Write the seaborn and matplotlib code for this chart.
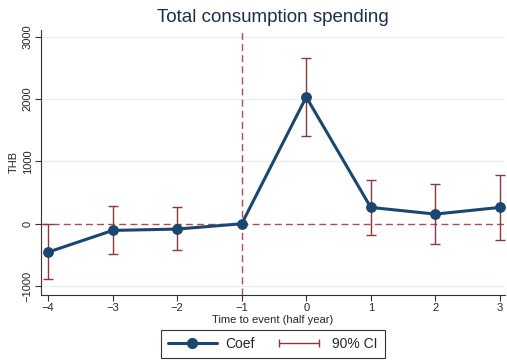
import numpy as np
import pandas as pd
import seaborn as sns
import matplotlib.pyplot as plt
from matplotlib.lines import Line2D
from matplotlib.legend_handler import HandlerLine2D

# event-study estimates
period = [-4, -3, -2, -1, 0, 1, 2, 3]
coef = [-455, -107, -85, 0, 2033, 262, 155, 262]
ci_low = [-888, -477, -428, 0, 1401, -177, -332, -262]
ci_high = [-5, 278, 268, 0, 2653, 695, 642, 782]

data = pd.DataFrame({'period': period, 'coef': coef,
                     'low': ci_low, 'high': ci_high})

navy = '#1a476f'
maroon = '#90353b'

sns.set_style('white')
plt.rcParams['font.family'] = ['Liberation Sans', 'DejaVu Sans']

fig = plt.figure(figsize=(5.07, 3.64), dpi=100)
ax = fig.add_axes([0.081, 0.19, 0.915, 0.728])

# horizontal grid
for v in [-1000, 1000, 2000, 3000]:
    ax.axhline(v, color='#e4eef0', lw=0.9, zorder=0)

# reference lines
ax.axhline(0, color='#b04a50', lw=1, ls=(0, (5, 3)), zorder=1)
ax.axvline(-1, color='#b04a50', lw=1, ls=(0, (5, 3)), zorder=1)

# confidence intervals
sub = data[data['period'] != -1]
ax.errorbar(sub['period'], sub['coef'],
            yerr=[sub['coef'] - sub['low'], sub['high'] - sub['coef']],
            fmt='none', ecolor=maroon, elinewidth=1, capsize=3.5,
            capthick=1, zorder=2)

# coefficients
sns.lineplot(data=data, x='period', y='coef', color=navy, lw=2.2,
             marker='o', markersize=7, markeredgecolor=navy, ax=ax, zorder=3)

ax.set_xlim(-4.11, 3.08)
ax.set_ylim(-1140, 3110)
ax.set_xticks(period)
ax.set_xticklabels([str(p).replace('-', '\u2212') for p in period])
ax.set_yticks([-1000, 0, 1000, 2000, 3000])
ax.set_yticklabels(['\u22121000', '0', '1000', '2000', '3000'],
                   rotation=90, va='center')

ax.tick_params(axis='both', which='both', direction='out', length=4,
               width=0.8, labelsize=8, color='#333333', pad=2,
               bottom=True, left=True)
for s in ['top', 'right']:
    ax.spines[s].set_visible(False)
for s in ['left', 'bottom']:
    ax.spines[s].set_color('#333333')
    ax.spines[s].set_linewidth(0.8)

ax.set_xlabel('Time to event (half year)', fontsize=8, labelpad=1)
ax.set_ylabel('THB', fontsize=8, labelpad=3)
ax.set_title('Total consumption spending', fontsize=13.5, color='#1c2e4a', pad=6)

# legend
coef_h = Line2D([], [], color=navy, lw=2.2, marker='o', markersize=7)
ci_h = Line2D([], [], color=maroon, lw=1, marker='|', markersize=6)
leg = fig.legend([coef_h, ci_h], ['Coef', '90% CI'], ncol=2,
                 loc='lower center', bbox_to_anchor=(0.538, 0.0165),
                 borderaxespad=0, frameon=True, fancybox=False, fontsize=10,
                 handlelength=3.5, handletextpad=0.65, columnspacing=1.4,
                 borderpad=0.5,
                 handler_map={ci_h: HandlerLine2D(numpoints=2)})
leg.get_frame().set_edgecolor('black')
leg.get_frame().set_linewidth(0.8)

plt.savefig('out.png', dpi=100)
